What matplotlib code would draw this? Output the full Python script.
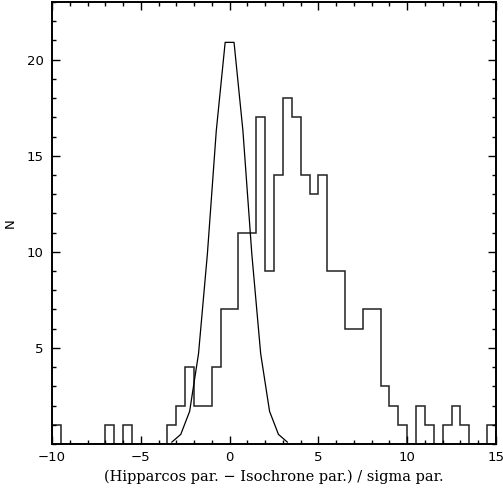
import numpy as np
import matplotlib
matplotlib.use("Agg")
import matplotlib.pyplot as plt
from matplotlib.ticker import MultipleLocator, FixedLocator

# Histogram: bin edges from -10 to 15 in steps of 0.5
bin_edges = np.arange(-10, 15.01, 0.5)
counts = [1, 0, 0, 0, 0, 0, 1, 0, 1, 0,
          0, 0, 0, 1, 2, 4, 2, 2, 4, 7,
          7, 11, 11, 17, 9, 14, 18, 17, 14, 13,
          14, 9, 9, 6, 6, 7, 7, 3, 2, 1,
          0, 2, 1, 0, 1, 2, 1, 0, 0, 1]

# Overlaid curve (read at bin centres)
curve_x = [-3.25, -2.75, -2.25, -1.75, -1.25, -0.75, -0.25,
           0.25, 0.75, 1.25, 1.75, 2.25, 2.75, 3.25]
curve_y = [0.1, 0.5, 1.7, 4.7, 9.9, 16.3, 20.9,
           20.9, 16.3, 9.9, 4.7, 1.7, 0.5, 0.1]

xticks = [-10, -5, 0, 5, 10, 15]
yticks = [5, 10, 15, 20]

fig = plt.figure(figsize=(5.03, 4.91), dpi=100)
ax = fig.add_axes([52/503, 47/491, 444/503, 442/491])

ax.stairs(counts, bin_edges, baseline=0, color="#222222", linewidth=1.1)
ax.plot(curve_x, curve_y, color="black", linewidth=0.9)

ax.set_xlim(-10, 15)
ax.set_ylim(0, 23)
ax.xaxis.set_major_locator(FixedLocator(xticks))
ax.xaxis.set_minor_locator(MultipleLocator(1))
ax.yaxis.set_major_locator(FixedLocator(yticks))
ax.yaxis.set_minor_locator(MultipleLocator(1))
ax.set_xticklabels(["\u2212" + str(-t) if t < 0 else str(t) for t in xticks])

ax.tick_params(which="both", direction="in", top=True, right=True,
               width=1.0, colors="black", labelsize=9.5)
ax.tick_params(which="major", length=6)
ax.tick_params(which="minor", length=3)
ax.tick_params(axis="x", which="major", pad=5)
ax.tick_params(axis="y", which="major", pad=6)
for s in ax.spines.values():
    s.set_linewidth(1.4)

ax.set_xlabel("(Hipparcos par. \u2212 Isochrone par.) / sigma par.",
              family="DejaVu Serif", fontsize=10.5, labelpad=4)
ax.set_ylabel("N", family="DejaVu Sans", fontsize=9.5, labelpad=7)

fig.savefig("out.png", dpi=100)
